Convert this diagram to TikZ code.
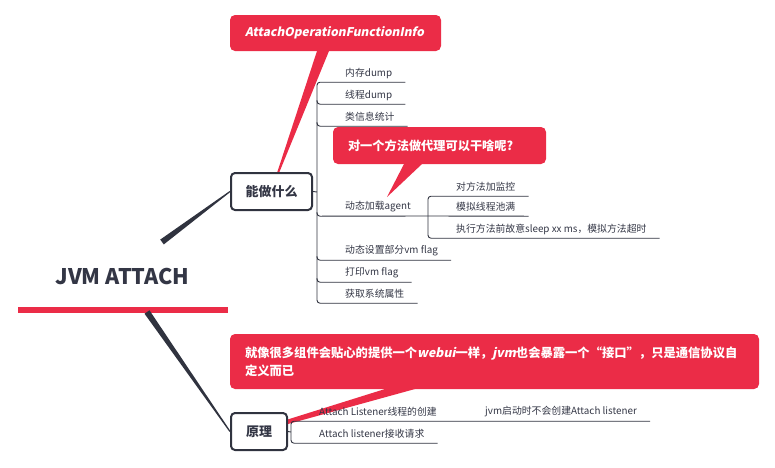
\documentclass[tikz,border=0pt]{standalone}
\usepackage{fontspec}
\setmainfont{Noto Sans CJK SC}
\newfontfamily\slantfont{Noto Sans CJK SC}[FakeSlant=0.2]
\usetikzlibrary{positioning,calc}

\definecolor{xred}{HTML}{EB2C47}
\definecolor{xline}{HTML}{30333F}
\definecolor{xtext}{HTML}{333645}

\newcommand{\slant}[1]{{\slantfont\bfseries #1}}

\tikzset{
  topic/.style={draw=xline,fill=white,line width=2pt,rounded corners=4pt,text=xtext,
    font=\fontsize{13}{15}\selectfont\bfseries,inner sep=0pt,minimum height=37pt},
  leaf/.style={anchor=west,text=xtext,font=\fontsize{9.85}{12}\selectfont,
    inner xsep=13pt,inner ysep=0pt,minimum height=18pt},
  callout/.style={fill=xred,rounded corners=5pt,text=white,inner ysep=0pt,inner xsep=15pt,align=left},
  twig/.style={draw=xline,line width=0.9pt,rounded corners=3pt},
}

\begin{document}
\begin{tikzpicture}[x=1pt,y=-1pt]
  \useasboundingbox (0,0) rectangle (775,467);

  % root, with its red bar
  \node[text=xtext,font=\fontsize{21.5}{25}\selectfont\bfseries] (root) at (122.5,276.5) {JVM ATTACH};
  \fill[xred] (18,307) rectangle (228,313);
  \coordinate (rootup) at (162,242);
  \coordinate (rootdown) at (147,312);

  % callout wedges first, boxes go over them
  \fill[xred] (317,51) -- (329,51) -- (279,173) -- (277,173) -- cycle;
  \fill[xred] (404,164) -- (422,164) -- (387,197) -- cycle;
  \fill[xred] (385,389) -- (415,389) -- (288,424) -- (286,420) -- cycle;

  % the two main topics
  \node[topic,minimum width=81pt] (what) at (271.5,191.5) {能做什么};
  \node[topic,minimum width=56pt] (how) at (259,431.5) {原理};

  % tapered branches from the root
  \fill[xline] ($(rootup)!3pt!90:(what.west)$) -- ($(what.west)!0.6pt!-90:(rootup)$)
    -- ($(what.west)!0.6pt!90:(rootup)$) -- ($(rootup)!3pt!-90:(what.west)$) -- cycle;
  \fill[xline] ($(rootdown)!3pt!90:(how.west)$) -- ($(how.west)!0.6pt!-90:(rootdown)$)
    -- ($(how.west)!0.6pt!90:(rootdown)$) -- ($(rootdown)!3pt!-90:(how.west)$) -- cycle;

  % callouts
  \node[callout,text width=181pt,minimum height=36pt,font=\fontsize{12}{14}\selectfont]
    (info) at (335.5,33) {\slant{AttachOperationFunctionInfo}};
  \node[callout,text width=183pt,minimum height=37pt,font=\fontsize{12.2}{15}\selectfont\bfseries]
    (proxy) at (439.5,145.5) {对一个方法做代理可以干啥呢?};
  \node[callout,text width=499pt,minimum height=55pt,font=\fontsize{12.3}{18}\selectfont\bfseries]
    (like) at (494.5,361.5)
    {就像很多组件会贴心的提供一个\slant{webui}一样，\slant{jvm}也会暴露一个“接口”，只是通信协议自\\定义而已};

  % leaves of 能做什么
  \coordinate (fork) at (317,192);
  \node[leaf] (mem) at (332,73) {内存dump};
  \node[leaf] (thr) at (332,95) {线程dump};
  \node[leaf] (cls) at (332,117) {类信息统计};
  \node[leaf] (agent) at (332,207) {动态加载agent};
  \node[leaf] (flag) at (332,251) {动态设置部分vm flag};
  \node[leaf] (print) at (332,273) {打印vm flag};
  \node[leaf] (prop) at (332,294) {获取系统属性};

  \draw[twig] (what.east) -- (fork);
  \draw[twig] (mem.south east) -- (mem.south west -| fork) -- (prop.south west -| fork) -- (prop.south east);
  \draw[twig] ($(thr.south west -| fork)+(0,-4)$) -- (thr.south west -| fork) -- (thr.south east);
  \draw[twig] ($(cls.south west -| fork)+(0,-4)$) -- (cls.south west -| fork) -- (cls.south east);
  \draw[twig] ($(flag.south west -| fork)+(0,-4)$) -- (flag.south west -| fork) -- (flag.south east);
  \draw[twig] ($(print.south west -| fork)+(0,-4)$) -- (print.south west -| fork) -- (print.south east);

  % agent and its own leaves
  \coordinate (subfork) at (428,216);
  \node[leaf] (mon) at (443,187) {对方法加监控};
  \node[leaf] (pool) at (443,207) {模拟线程池满};
  \node[leaf] (sleep) at (443,229) {执行方法前故意sleep xx ms，模拟方法超时};
  \draw[twig] ($(agent.south west -| fork)+(0,-4)$) -- (agent.south west -| fork) -- (subfork) -- (pool.south east);
  \draw[twig] (mon.south east) -- (mon.south west -| subfork) -- (sleep.south west -| subfork) -- (sleep.south east);

  % leaves of 原理
  \coordinate (howfork) at (291,432);
  \node[leaf] (listen) at (306,412) {Attach Listener线程的创建};
  \node[leaf] (recv) at (306,434) {Attach listener接收请求};
  \node[leaf] (lazy) at (472,412) {jvm启动时不会创建Attach listener};
  \draw[twig] (how.east) -- (howfork);
  \draw[twig] (lazy.south east) -- (listen.south west -| howfork) -- (recv.south west -| howfork) -- (recv.south east);
\end{tikzpicture}
\end{document}
